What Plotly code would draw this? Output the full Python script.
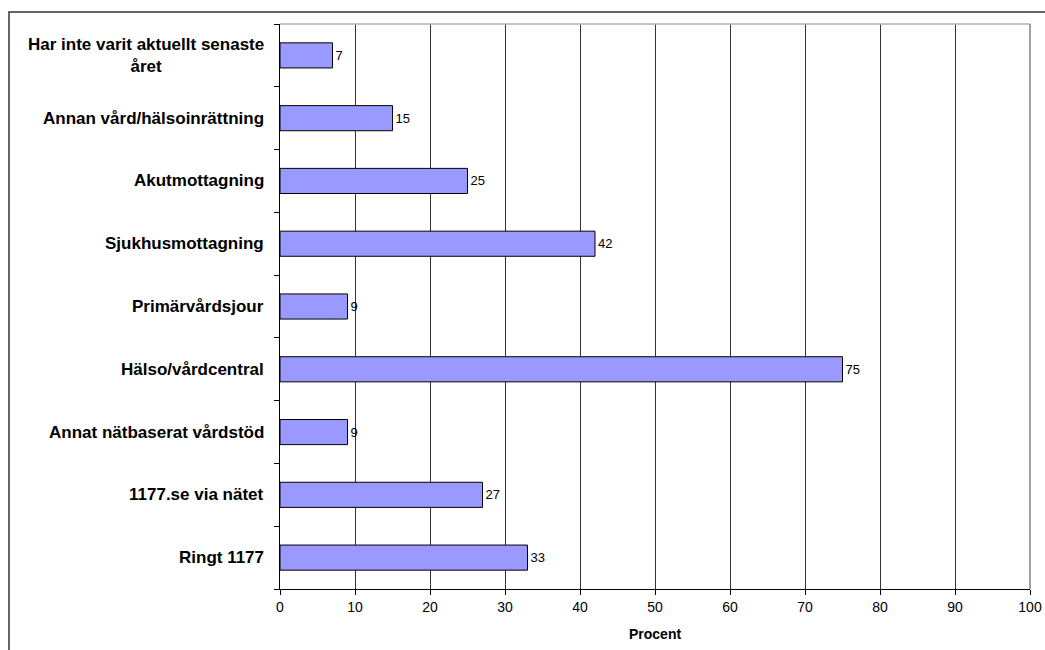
import plotly.graph_objects as go

# Categories listed bottom-to-top, with percentage shares
categories = [
    "Ringt 1177",
    "1177.se via nätet",
    "Annat nätbaserat vårdstöd",
    "Hälso/vårdcentral",
    "Primärvårdsjour",
    "Sjukhusmottagning",
    "Akutmottagning",
    "Annan vård/hälsoinrättning",
    "Har inte varit aktuellt senaste<br>året",
]
values = [33, 27, 9, 75, 9, 42, 25, 15, 7]
x_ticks = [0, 10, 20, 30, 40, 50, 60, 70, 80, 90, 100]

W, H = 1045, 650
L, R, T, B = 280, 15, 24, 61
plot_w = W - L - R
plot_h = H - T - B
FONT = "Arial, Liberation Sans, sans-serif"

fig = go.Figure()
fig.add_trace(go.Bar(
    y=list(range(len(categories))),
    x=values,
    orientation="h",
    marker=dict(color="#9999FF", line=dict(color="#000000", width=1)),
    text=[str(v) for v in values],
    textposition="outside",
    textfont=dict(family=FONT, size=13, color="#000000"),
    cliponaxis=False,
    hoverinfo="skip",
))

# Category labels, right-aligned beside the axis (multi-line label centred)
annotations = []
for i, c in enumerate(categories):
    annotations.append(dict(
        x=(266 - L) / plot_w, xref="paper", y=i, yref="y",
        text="<b>" + c + "</b>", showarrow=False,
        xanchor="right", yanchor="middle", align="center",
        font=dict(family=FONT, size=17, color="#000000"),
    ))
annotations.append(dict(
    x=0.5, xref="paper", y=-(634 - (T + plot_h)) / plot_h, yref="paper",
    text="<b>Procent</b>", showarrow=False, xanchor="center", yanchor="middle",
    font=dict(family=FONT, size=14, color="#000000"),
))

shapes = [
    # outer chart frame
    dict(type="rect", xref="paper", yref="paper",
         x0=(9 - L) / plot_w, x1=(W + 20 - L) / plot_w,
         y0=-(H + 20 - T - plot_h) / plot_h, y1=1 + (T - 12) / plot_h,
         line=dict(color="#333333", width=1.5), fillcolor="rgba(0,0,0,0)", layer="below"),
    # plot area border: top and right in grey
    dict(type="line", xref="paper", yref="paper", x0=0, x1=1, y0=1, y1=1,
         line=dict(color="#b0b0b0", width=1.5)),
    dict(type="line", xref="paper", yref="paper", x0=1, x1=1, y0=0, y1=1,
         line=dict(color="#808080", width=1.5)),
]

fig.update_layout(
    template="none",
    width=W, height=H, autosize=False,
    margin=dict(l=L, r=R, t=T, b=B, autoexpand=False),
    paper_bgcolor="#ffffff", plot_bgcolor="#ffffff",
    showlegend=False,
    bargap=0.6,
    font=dict(family=FONT, size=14, color="#000000"),
    xaxis=dict(
        range=[0, 100], tickvals=x_ticks, ticktext=[str(t) for t in x_ticks],
        showgrid=True, gridcolor="#333333", gridwidth=1,
        showline=True, linecolor="#000000", linewidth=1,
        ticks="outside", ticklen=5, tickcolor="#000000",
        tickfont=dict(family=FONT, size=14, color="#000000"),
        zeroline=False, fixedrange=True, automargin=False,
    ),
    yaxis=dict(
        range=[-0.5, len(categories) - 0.5],
        tickvals=[i - 0.5 for i in range(len(categories) + 1)],
        ticktext=[""] * (len(categories) + 1),
        showgrid=False, showline=True, linecolor="#000000", linewidth=1,
        ticks="outside", ticklen=5, tickcolor="#000000",
        zeroline=False, fixedrange=True, automargin=False,
    ),
    annotations=annotations,
    shapes=shapes,
)

fig.write_html(
    "out.html",
    config={"responsive": False, "displayModeBar": False},
    post_script="document.body.style.margin='0';document.body.style.overflow='hidden';",
)
